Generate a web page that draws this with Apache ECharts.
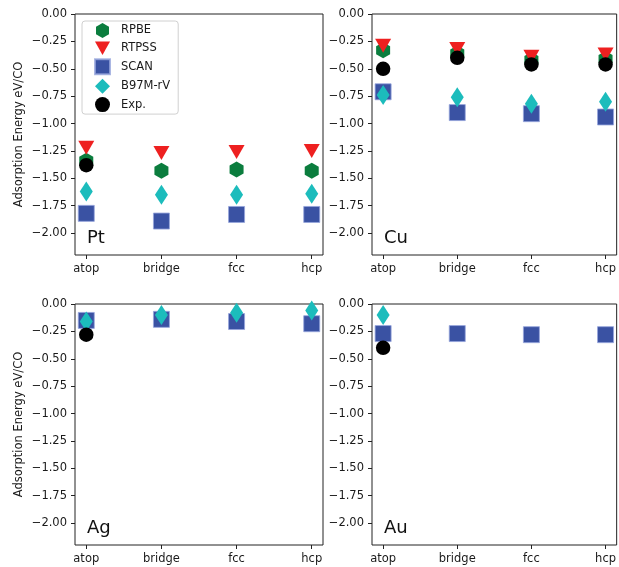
<!DOCTYPE html>
<html>
<head>
<meta charset="utf-8">
<script src="https://cdn.jsdelivr.net/npm/echarts@6/dist/echarts.min.js"></script>
<style>
html,body{margin:0;padding:0;background:#fff;}
#chart{width:619px;height:567px;}
</style>
</head>
<body>
<div id="chart"></div>
<script>
// ---- Data ----
const sites = ['atop', 'bridge', 'fcc', 'hcp'];
const metals = ['Pt', 'Cu', 'Ag', 'Au'];
const methods = ['RPBE', 'RTPSS', 'SCAN', 'B97M-rV', 'Exp.'];
const yTicks = [0, -0.25, -0.5, -0.75, -1.0, -1.25, -1.5, -1.75, -2.0];

// values per metal: [atop, bridge, fcc, hcp]; null = not present
const Pt_RPBE   = [-1.34, -1.43, -1.42, -1.43];
const Pt_RTPSS  = [-1.22, -1.27, -1.26, -1.25];
const Pt_SCAN   = [-1.82, -1.89, -1.83, -1.83];
const Pt_B97    = [-1.62, -1.65, -1.65, -1.64];
const Pt_Exp    = [-1.38, null, null, null];

const Cu_RPBE   = [-0.33, -0.36, -0.42, -0.41];
const Cu_RTPSS  = [-0.29, -0.32, -0.39, -0.37];
const Cu_SCAN   = [-0.71, -0.90, -0.91, -0.94];
const Cu_B97    = [-0.74, -0.76, -0.82, -0.80];
const Cu_Exp    = [-0.50, -0.40, -0.46, -0.46];

const Ag_RPBE   = [null, null, null, null];
const Ag_RTPSS  = [null, null, null, null];
const Ag_SCAN   = [-0.15, -0.14, -0.16, -0.18];
const Ag_B97    = [-0.16, -0.10, -0.08, -0.06];
const Ag_Exp    = [-0.28, null, null, null];

const Au_RPBE   = [null, null, null, null];
const Au_RTPSS  = [null, null, null, null];
const Au_SCAN   = [-0.27, -0.27, -0.28, -0.28];
const Au_B97    = [-0.10, null, null, null];
const Au_Exp    = [-0.40, null, null, null];

const panelData = [
  [Pt_RPBE, Pt_RTPSS, Pt_SCAN, Pt_B97, Pt_Exp],
  [Cu_RPBE, Cu_RTPSS, Cu_SCAN, Cu_B97, Cu_Exp],
  [Ag_RPBE, Ag_RTPSS, Ag_SCAN, Ag_B97, Ag_Exp],
  [Au_RPBE, Au_RTPSS, Au_SCAN, Au_B97, Au_Exp]
];

// ---- Styles ----
const FONT = 'DejaVu Sans';
const colors = ['#0b7d3e', '#ee2020', '#3a52a3', '#1cbcbc', '#000000'];
const symbols = [
  'path://M0,-1 L0.866,-0.5 L0.866,0.5 L0,1 L-0.866,0.5 L-0.866,-0.5 Z',
  'path://M-1,-0.9 L1,-0.9 L0,0.9 Z',
  'rect',
  'diamond',
  'circle'
];
const sizes = [[14, 16], [16, 14], [16, 16], [13, 20], [14.5, 14.5]];

const grids = [
  {left: 75, top: 14, width: 248, height: 241},
  {left: 372, top: 14, width: 246, height: 241},
  {left: 75, top: 304, width: 248, height: 241},
  {left: 372, top: 304, width: 246, height: 241}
];

const fmtY = v => (v < -1e-9 ? '\u2212' : '') + Math.abs(v).toFixed(2);

const option = {
  animation: false,
  backgroundColor: '#fff',
  textStyle: {fontFamily: FONT},
  grid: grids.map(g => Object.assign({show: true, borderColor: '#222', borderWidth: 1, backgroundColor: 'transparent'}, g)),
  title: metals.map((m, i) => ({
    text: m,
    left: grids[i].left + 12,
    top: grids[i].top + grids[i].height - 26,
    padding: 0,
    textStyle: {fontFamily: FONT, fontSize: 18, fontWeight: 'normal', color: '#111'}
  })),
  xAxis: metals.map((m, i) => ({
    type: 'value', gridIndex: i, min: -0.15, max: 3.15,
    axisLine: {show: false, onZero: false},
    splitLine: {show: false},
    axisTick: {show: true, length: 4, lineStyle: {color: '#222'}, customValues: [0, 1, 2, 3]},
    axisLabel: {
      customValues: [0, 1, 2, 3],
      formatter: v => sites[Math.round(v)],
      color: '#1a1a1a', fontSize: 11.5, fontFamily: FONT, margin: 8
    }
  })),
  yAxis: metals.map((m, i) => ({
    type: 'value', gridIndex: i, min: -2.2, max: 0,
    name: (i % 2 === 0) ? 'Adsorption Energy eV/CO' : '',
    nameLocation: 'middle', nameGap: 50, nameRotate: 90,
    nameTextStyle: {fontFamily: FONT, fontSize: 11.5, color: '#1a1a1a'},
    axisLine: {show: false, onZero: false},
    splitLine: {show: false},
    axisTick: {show: true, length: 4, lineStyle: {color: '#222'}, customValues: yTicks},
    axisLabel: {customValues: yTicks, formatter: fmtY, color: '#1a1a1a', fontSize: 11.5, fontFamily: FONT, margin: 8}
  })),
  legend: {
    show: true,
    orient: 'vertical',
    left: 82, top: 21,
    padding: [2, 8, 2, 12],
    itemWidth: 15, itemHeight: 15, itemGap: 3.4,
    backgroundColor: 'rgba(255,255,255,0.8)',
    borderColor: '#d0d0d0', borderWidth: 1, borderRadius: 3,
    textStyle: {fontFamily: FONT, fontSize: 11.5, color: '#1a1a1a', padding: [0, 0, 0, 6]},
    data: methods.map((m, k) => ({name: m, icon: symbols[k]}))
  },
  series: []
};

metals.forEach((m, i) => {
  panelData[i].forEach((vals, k) => {
    const pts = [];
    vals.forEach((v, j) => { if (v !== null) pts.push([j, v]); });
    option.series.push({
      type: 'scatter',
      name: methods[k],
      xAxisIndex: i, yAxisIndex: i,
      data: pts,
      symbol: symbols[k],
      symbolSize: sizes[k],
      z: 2 + k,
      itemStyle: {color: colors[k], opacity: 1,
        borderColor: k === 2 ? 'rgba(150,165,220,0.8)' : 'transparent', borderWidth: k === 2 ? 1 : 0}
    });
  });
});

const chart = echarts.init(document.getElementById('chart'), null, {renderer: 'canvas'});
chart.setOption(option);
</script>
</body>
</html>
